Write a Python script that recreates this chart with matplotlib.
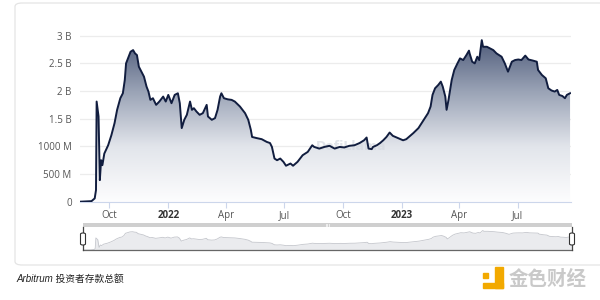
import matplotlib
matplotlib.use("Agg")
import matplotlib.pyplot as plt
import matplotlib.dates as mdates
import numpy as np
import pandas as pd
from matplotlib.colors import LinearSegmentedColormap
from matplotlib.patches import FancyBboxPatch, Rectangle

# ---------------- data (billions USD) ----------------
dates = [
    "2021-08-16", "2021-09-03", "2021-09-08", "2021-09-10", "2021-09-11", "2021-09-14",
    "2021-09-16", "2021-09-18", "2021-09-20", "2021-09-23", "2021-09-29", "2021-10-04",
    "2021-10-09", "2021-10-13", "2021-10-18", "2021-10-22", "2021-10-25", "2021-10-27",
    "2021-10-31", "2021-11-03", "2021-11-07", "2021-11-10", "2021-11-13", "2021-11-16",
    "2021-11-20", "2021-11-24", "2021-11-28", "2021-12-01", "2021-12-04", "2021-12-08",
    "2021-12-13", "2021-12-18", "2021-12-24", "2021-12-28", "2022-01-01", "2022-01-06",
    "2022-01-11", "2022-01-16", "2022-01-19", "2022-01-22", "2022-01-26", "2022-01-30",
    "2022-02-04", "2022-02-07", "2022-02-10", "2022-02-14", "2022-02-19", "2022-02-24",
    "2022-03-02", "2022-03-04", "2022-03-10", "2022-03-15", "2022-03-19", "2022-03-23",
    "2022-03-25", "2022-03-29", "2022-04-04", "2022-04-10", "2022-04-15", "2022-04-23",
    "2022-05-01", "2022-05-06", "2022-05-10", "2022-05-12", "2022-05-19", "2022-05-27",
    "2022-06-04", "2022-06-09", "2022-06-12", "2022-06-16", "2022-06-20", "2022-06-25",
    "2022-06-30", "2022-07-04", "2022-07-11", "2022-07-15", "2022-07-22", "2022-07-30",
    "2022-08-07", "2022-08-14", "2022-08-17", "2022-08-25", "2022-09-02", "2022-09-10",
    "2022-09-18", "2022-09-26", "2022-10-03", "2022-10-11", "2022-10-19", "2022-10-27",
    "2022-11-03", "2022-11-07", "2022-11-10", "2022-11-15", "2022-11-17", "2022-11-23",
    "2022-11-28", "2022-12-03", "2022-12-08", "2022-12-13", "2022-12-18", "2022-12-26",
    "2023-01-03", "2023-01-08", "2023-01-14", "2023-01-19", "2023-01-27", "2023-02-01",
    "2023-02-06", "2023-02-11", "2023-02-15", "2023-02-18", "2023-02-22", "2023-02-27",
    "2023-03-03", "2023-03-06", "2023-03-10", "2023-03-12", "2023-03-15", "2023-03-20",
    "2023-03-24", "2023-03-29", "2023-04-02", "2023-04-07", "2023-04-12", "2023-04-16",
    "2023-04-17", "2023-04-21", "2023-04-25", "2023-04-29", "2023-05-02", "2023-05-06",
    "2023-05-08", "2023-05-14", "2023-05-19", "2023-05-24", "2023-05-29", "2023-06-06",
    "2023-06-11", "2023-06-14", "2023-06-16", "2023-06-22", "2023-06-27", "2023-07-02",
    "2023-07-07", "2023-07-13", "2023-07-18", "2023-07-25", "2023-07-31", "2023-08-02",
    "2023-08-08", "2023-08-14", "2023-08-18", "2023-08-23", "2023-08-28", "2023-09-01",
    "2023-09-04", "2023-09-09", "2023-09-13", "2023-09-16", "2023-09-21",
]
deposits_b = [
    0.00, 0.01, 0.06, 0.21, 1.81, 1.54,
    0.39, 0.75, 0.66, 0.87, 1.02, 1.20,
    1.42, 1.66, 1.87, 1.96, 2.20, 2.50,
    2.62, 2.71, 2.74, 2.68, 2.65, 2.44,
    2.35, 2.26, 2.08, 1.99, 1.84, 1.87,
    1.75, 1.81, 1.90, 1.81, 1.93, 1.78,
    1.93, 1.96, 1.78, 1.33, 1.48, 1.57,
    1.81, 1.66, 1.69, 1.63, 1.57, 1.60,
    1.75, 1.54, 1.48, 1.51, 1.66, 1.90,
    1.96, 1.87, 1.85, 1.84, 1.81, 1.72,
    1.60, 1.48, 1.30, 1.17, 1.15, 1.13,
    1.08, 1.06, 0.99, 0.78, 0.75, 0.78,
    0.72, 0.65, 0.69, 0.65, 0.72, 0.84,
    0.90, 1.02, 0.99, 0.96, 0.99, 1.01,
    0.96, 0.99, 0.98, 1.01, 1.02, 1.06,
    1.11, 1.16, 0.96, 0.95, 0.99, 1.02,
    1.06, 1.11, 1.17, 1.25, 1.19, 1.15,
    1.11, 1.13, 1.19, 1.24, 1.33, 1.42,
    1.51, 1.60, 1.72, 1.93, 2.05, 2.11,
    2.17, 2.08, 1.90, 1.66, 1.84, 2.20,
    2.38, 2.50, 2.59, 2.56, 2.65, 2.73,
    2.68, 2.53, 2.50, 2.62, 2.56, 2.92,
    2.80, 2.80, 2.77, 2.74, 2.68, 2.62,
    2.50, 2.41, 2.35, 2.53, 2.56, 2.57,
    2.56, 2.64, 2.57, 2.55, 2.53, 2.38,
    2.29, 2.23, 2.05, 2.01, 1.99, 2.02,
    1.93, 1.91, 1.87, 1.93, 1.96,
]
y_ticks = [0, 0.5, 1.0, 1.5, 2.0, 2.5, 3.0]
y_labels = ["0", "500 M", "1000 M", "1.5 B", "2 B", "2.5 B", "3 B"]
x_tick_dates = ["2021-10-01", "2022-01-01", "2022-04-01", "2022-07-01",
                "2022-10-01", "2023-01-01", "2023-04-01", "2023-07-01"]
x_labels = ["Oct", "2022", "Apr", "Jul", "Oct", "2023", "Apr", "Jul"]
x_start, x_end = "2021-08-16", "2023-09-22"
caption = "Arbitrum 投资者存款总额"
brand = "金色财经"

# ---------------- figure ----------------
W, H = 600, 300
fig = plt.figure(figsize=(6, 3), dpi=100)
fig.patch.set_facecolor("white")

# card
card = FancyBboxPatch((15 / W, 1 - 265 / H), 620 / W, (265 - 3) / H,
                      boxstyle="round,pad=0,rounding_size=0.012",
                      transform=fig.transFigure, facecolor="white",
                      edgecolor="#e4e4e4", linewidth=0.9, zorder=-10)
fig.add_artist(card)

xd = mdates.date2num(pd.to_datetime(dates))
yv = np.array(deposits_b)
xmin = mdates.date2num(pd.Timestamp(x_start))
xmax = mdates.date2num(pd.Timestamp(x_end))

ymax = 3.05
px_per_b = 166 / 3.0
top_px = 201.7 - ymax * px_per_b
ax = fig.add_axes([80 / W, 1 - 201.7 / H, (570.7 - 80) / W, (201.7 - top_px) / H])
ax.set_zorder(2)
ax.set_xlim(xmin, xmax)
ax.set_ylim(0, ymax)
ax.set_facecolor("none")

# gradient fill
poly = ax.fill_between(xd, yv, 0, facecolor="none", edgecolor="none")
cmap = LinearSegmentedColormap.from_list("g", ["#fdfdfe", "#e2e5eb", "#9aa3b6", "#4b5877"])
grad = np.linspace(0, 1, 256).reshape(-1, 1)
im = ax.imshow(grad, cmap=cmap, aspect="auto", origin="lower",
               extent=[xmin, xmax, 0, 3.0], zorder=1)
im.set_clip_path(poly.get_paths()[0], transform=ax.transData)
ax.set_xlim(xmin, xmax)
ax.set_ylim(0, ymax)
ax.plot(xd, yv, color="#111d3f", lw=1.4, zorder=3, solid_joinstyle="round")

for s in ["top", "right", "left"]:
    ax.spines[s].set_visible(False)
ax.spines["bottom"].set_color("#ccd6eb")
ax.spines["bottom"].set_linewidth(0.8)
ax.set_yticks(y_ticks)
ax.set_yticklabels(y_labels)
for yt in y_ticks[1:]:
    ax.axhline(yt, color="#ececec", lw=0.9, zorder=0)
ax.tick_params(axis="y", length=0, pad=6, labelsize=7, labelcolor="#555555")
ax.set_xticks(mdates.date2num(pd.to_datetime(x_tick_dates)))
ax.set_xticklabels(x_labels)
ax.tick_params(axis="x", length=4, width=0.8, color="#ccd6eb", pad=2,
               labelsize=7, labelcolor="#555555")
for lab in ax.get_xticklabels():
    if lab.get_text() in ("2022", "2023"):
        lab.set_fontweight("bold")
        lab.set_color("#333333")
for lab in ax.get_xticklabels() + ax.get_yticklabels():
    lab.set_family(["Open Sans", "DejaVu Sans"])

# faint watermark
ax.text(mdates.date2num(pd.Timestamp("2022-08-20")), 1.0, "DefiLlama",
        fontsize=9, fontweight="bold", color="#d5d9e0", alpha=0.7,
        ha="left", va="center", zorder=2)

# ---------------- navigator ----------------
nav = fig.add_axes([83 / W, 1 - 250 / H, (572 - 83) / W, (250 - 227.3) / H])
nav.set_zorder(2)
nav.set_xlim(xmin + 6, xmax)
nav.set_ylim(0, 3.4)
nav.fill_between(xd, yv, 0, color="#eaebee", lw=0)
nav.plot(xd, yv, color="#c4c6cc", lw=0.6)
nav.set_xticks([])
nav.set_yticks([])
for s in ["top", "left", "right"]:
    nav.spines[s].set_visible(False)
nav.spines["bottom"].set_color("#666666")
nav.spines["bottom"].set_linewidth(0.9)
nav.set_facecolor("none")

bar = fig.add_axes([83 / W, 1 - 227.3 / H, (572 - 83) / W, 4.6 / H])
bar.set_zorder(2)
bar.set_facecolor("#cfcfcf")
bar.set_xticks([])
bar.set_yticks([])
for s in bar.spines.values():
    s.set_visible(False)
for dx in (-1.2, 0, 1.2):
    fig.add_artist(plt.Line2D([(327.5 + dx) / W] * 2, [1 - 226.3 / H, 1 - 223.7 / H],
                              color="#f5f5f5", lw=0.6, transform=fig.transFigure, zorder=5))

# handles
for hx in (83, 572):
    fig.add_artist(plt.Line2D([hx / W, hx / W], [1 - 250 / H, 1 - 227.3 / H],
                              color="#444444", lw=0.9, transform=fig.transFigure, zorder=5))
    fig.add_artist(FancyBboxPatch(((hx - 2.5) / W, 1 - 245 / H), 5 / W, 12 / H,
                                  boxstyle="round,pad=0,rounding_size=0.004",
                                  transform=fig.transFigure, facecolor="white",
                                  edgecolor="#333333", lw=0.8, zorder=6))

# ---------------- caption and brand ----------------
fig.text(16 / W, 1 - 279 / H, caption, fontsize=7, style="italic",
         family=["Liberation Sans", "Noto Sans CJK SC"], color="#222222",
         ha="left", va="center")

orange = "#f2a900"
fig.add_artist(Rectangle((483 / W, 1 - 278 / H), 5 / W, 5 / H, color=orange,
                         transform=fig.transFigure))
fig.add_artist(Rectangle((495 / W, 1 - 288 / H), 8 / W, 21 / H, color=orange,
                         transform=fig.transFigure))
fig.add_artist(Rectangle((483 / W, 1 - 288 / H), 20 / W, 5 / H, color=orange,
                         transform=fig.transFigure))
fig.text(509 / W, 1 - 279 / H, brand, fontsize=14, fontweight="bold",
         family=["Noto Sans CJK SC", "DejaVu Sans"], color="#c9c9c9",
         ha="left", va="center")

fig.savefig("out.png", dpi=100, facecolor="white")
